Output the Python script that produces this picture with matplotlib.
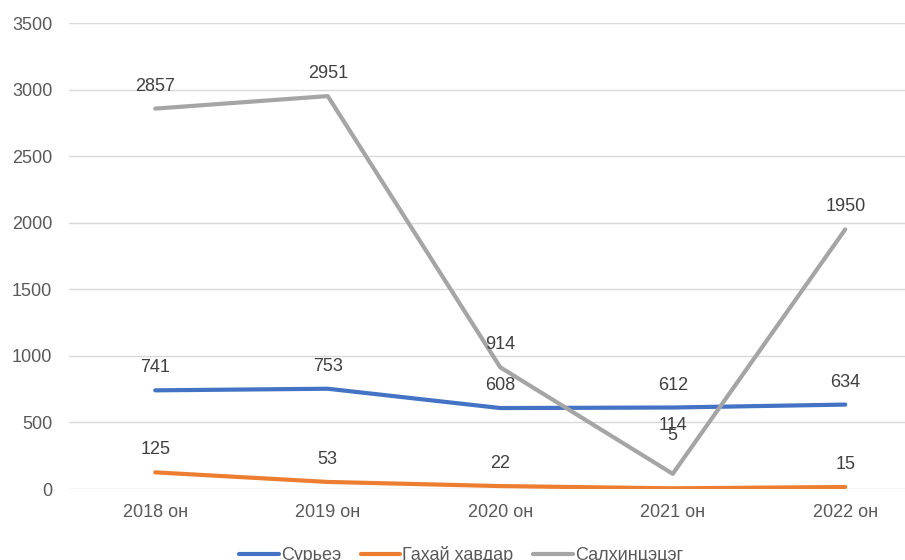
import matplotlib.pyplot as plt

# Данные
years = ['2018 он', '2019 он', '2020 он', '2021 он', '2022 он']
surees = [741, 753, 608, 612, 634]
gahai = [125, 53, 22, 5, 15]
salhi = [2857, 2951, 914, 114, 1950]

names = ['Сурьеэ', 'Гахай хавдар', 'Салхинцэцэг']
colors = ['#4472C4', '#ED7D31', '#A5A5A5']

plt.rcParams['font.family'] = ['Liberation Sans', 'DejaVu Sans']

fig = plt.figure(figsize=(9.05, 5.6), dpi=100)
ax = fig.add_axes([69 / 905, 71 / 560, 862.5 / 905, 466 / 560])

x = list(range(len(years)))
series = [surees, gahai, salhi]
for vals, name, c in zip(series, names, colors):
    ax.plot(x, vals, color=c, linewidth=3, label=name, solid_capstyle='round', zorder=3)

# подписи значений (две подписи сдвинуты выше, как в оригинале)
for si, vals in enumerate(series):
    for i, v in enumerate(vals):
        dy = 10
        if si == 1 and i == 3:
            dy = 32
        if si == 2 and i == 3:
            dy = 29
        ax.annotate(str(v), (i, v), xytext=(0, dy), textcoords='offset points',
                    ha='center', va='bottom', fontsize=13, color='#404040', zorder=4)

ax.set_xlim(-0.5, 4.5)
ax.set_ylim(0, 3500)
ax.set_yticks(range(0, 3501, 500))
ax.set_xticks(x)
ax.set_xticklabels(years)
ax.tick_params(axis='both', length=0, labelsize=13, labelcolor='#595959')
ax.tick_params(axis='y', pad=12)
ax.tick_params(axis='x', pad=11)
ax.grid(axis='y', color='#D9D9D9', linewidth=1)
ax.set_axisbelow(True)
for s in ax.spines.values():
    s.set_visible(False)

fig.legend(loc='center', bbox_to_anchor=(461 / 905, 1 - 555 / 560), ncol=3,
           frameon=False, fontsize=13, handlelength=2.2, handletextpad=0.1,
           columnspacing=1.1, labelcolor='#595959')

fig.savefig('out.png', dpi=100)
